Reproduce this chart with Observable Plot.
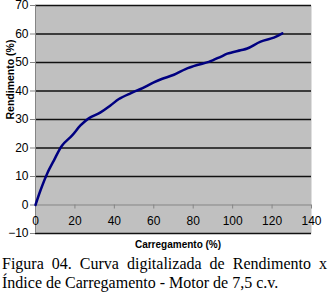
<!DOCTYPE html>
<html>
<head>
<meta charset="utf-8">
<script src="https://cdn.jsdelivr.net/npm/d3@7"></script>
<script src="https://cdn.jsdelivr.net/npm/@observablehq/plot@0.6"></script>
<style>
  html, body { margin: 0; padding: 0; background: #fff; }
  #chart svg { display: block; font-family: "Liberation Sans", Arial, sans-serif; }
  #caption {
    width: 325px; margin: 0 0 0 2px;
    font-family: "Liberation Serif", "Times New Roman", serif;
    font-size: 16px; line-height: 19.4px; text-align: justify; color: #000;
  }
</style>
</head>
<body>
<div id="chart"></div>
<div id="caption">Figura 04. Curva digitalizada de Rendimento x Índice de Carregamento - Motor de 7,5 c.v.</div>
<script>
const carregamento = [0, 2.5, 5.9, 9.3, 13.5, 18.6, 22.8, 27, 33, 38, 42.3, 48.2, 53.3, 60, 64, 70.2, 76.1, 82, 87.9, 93.9, 97.3, 104, 107.4, 114.2, 120.9, 125.2];
const rendimento   = [0, 5.1, 11, 15.6, 20.9, 24.4, 27.9, 30.4, 32.5, 34.9, 37.2, 39.2, 40.7, 43, 44.2, 45.7, 47.7, 49.1, 50.2, 52, 53.1, 54.3, 54.9, 57.3, 58.7, 60.2];
const xTicks = [0, 20, 40, 60, 80, 100, 120, 140];
const yTicks = [-10, 0, 10, 20, 30, 40, 50, 60, 70];
const gridLines = [-10, 10, 20, 30, 40, 50, 60, 70];
const xLabel = "Carregamento (%)";
const yLabel = "Rendimento (%)";

const data = carregamento.map((x, i) => ({x, y: rendimento[i]}));

const chart = Plot.plot({
  width: 329,
  height: 254,
  marginLeft: 35,
  marginRight: 18,
  marginTop: 5,
  marginBottom: 21,
  x: {domain: [0, 140], axis: null},
  y: {domain: [-10, 70]},
  marks: [
    Plot.frame({fill: "#c0c0c0", stroke: "none"}),
    Plot.ruleY(gridLines, {stroke: "#111", strokeWidth: 1.4}),
    Plot.ruleY([0], {stroke: "#858585", strokeWidth: 1}),
    Plot.ruleX([0], {stroke: "#858585", strokeWidth: 1}),
    Plot.ruleX(xTicks, {x: d => d, y1: 0, y2: 0, insetBottom: -4, stroke: "#858585"}),
    Plot.axisY(yTicks, {tickSize: 5, tickPadding: 2, stroke: "#858585", fill: "#000", fontSize: 12, label: null}),
    Plot.text(xTicks, {x: d => d, y: 0, dy: 16, fontSize: 12, fill: "#000"}),
    Plot.line(data, {x: "x", y: "y", stroke: "#000080", strokeWidth: 2.5, curve: "catmull-rom"}),
    Plot.text([xLabel], {frameAnchor: "bottom", lineAnchor: "middle", dy: 11, dx: 4.5, fontSize: 10, fontWeight: "bold", fill: "#000"}),
    Plot.text([yLabel], {frameAnchor: "left", lineAnchor: "middle", rotate: -90, dx: -24.5, fontSize: 10.5, fontWeight: "bold", fill: "#000"})
  ]
});
document.getElementById("chart").appendChild(chart);
</script>
</body>
</html>
